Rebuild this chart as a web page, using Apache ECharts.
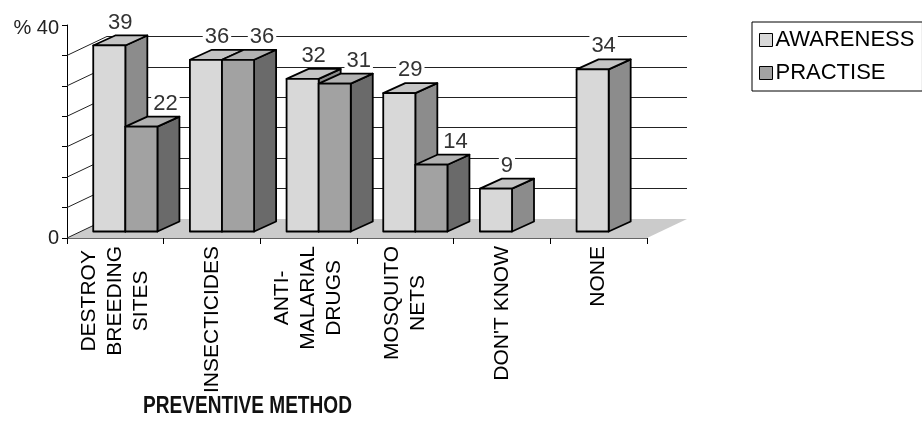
<!DOCTYPE html>
<html>
<head>
<meta charset="utf-8">
<script src="https://cdn.jsdelivr.net/npm/echarts@6/dist/echarts.min.js"></script>
<style>
  html, body { margin: 0; padding: 0; background: #fff; }
  #chart { width: 922px; height: 431px; }
</style>
</head>
<body>
<div id="chart"></div>
<script>
// Awareness vs practise of malaria preventive methods (% of respondents)
const categories = [
  'DESTROY\nBREEDING\nSITES',
  'INSECTICIDES',
  'ANTI-\nMALARIAL\nDRUGS',
  'MOSQUITO\nNETS',
  "DON'T KNOW",
  'NONE'
];
const awareness = [39, 36, 32, 29, 9, 34];
const practise = [22, 36, 31, 14, null, null];
const seriesNames = ['AWARENESS', 'PRACTISE'];
const axisTitle = 'PREVENTIVE METHOD';
const yMin = 0;
const yMax = 40;
const ySteps = 7;

// ---- look of the 3-D box ----
const FONT = "'Liberation Sans', Arial, Helvetica, sans-serif";
const WALL_DX = 40, WALL_DY = -19;   // depth of the floor / back wall offset
const BAR_DX = 22, BAR_DY = -10;     // depth of each block
const BAR_FRACTION = 0.332;          // one block's width relative to its category band
const yStep = (yMax - yMin) / ySteps;

const palette = [
  { front: '#d8d8d8', top: '#c4c4c4', side: '#8c8c8c' },
  { front: '#a2a2a2', top: '#b2b2b2', side: '#6a6a6a' }
];
const LABEL_DX = [11, 24];

const frontRect = { left: 67, top: 25, width: 580, height: 213 };
const wallRect = { left: frontRect.left + WALL_DX, top: frontRect.top + WALL_DY, width: 580, height: 213 };
const barRect = { left: 77, top: 40.7, width: 580, height: 190.8 };

function near(a, b) { return Math.abs(a - b) < 1e-6; }

// Floor, left-wall edge and the slanted tick connectors
function renderFloor(params, api) {
  const cs = params.coordSys;
  const x = cs.x, yb = cs.y + cs.height, w = cs.width;
  const children = [{
    type: 'polygon',
    shape: { points: [[x, yb], [x + w, yb], [x + w + WALL_DX, yb + WALL_DY], [x + WALL_DX, yb + WALL_DY]] },
    style: { fill: '#cbcbcb', stroke: null }
  }, {
    type: 'line',
    shape: { x1: x, y1: yb, x2: x + WALL_DX, y2: yb + WALL_DY },
    style: { stroke: '#222', lineWidth: 1 }
  }];
  for (let i = 1; i < ySteps; i++) {
    const p = api.coord([0, yMin + i * yStep]);
    children.push({
      type: 'line',
      shape: { x1: x, y1: p[1], x2: x + WALL_DX, y2: p[1] + WALL_DY },
      style: { stroke: '#222', lineWidth: 1 }
    });
  }
  return { type: 'group', children: children };
}

function blockRenderer(idx) {
  return function (params, api) {
    const cat = api.value(0);
    const val = api.value(1);
    if (val == null || isNaN(val)) return;
    const base = api.coord([cat, 0]);
    const top = api.coord([cat, val]);
    const w = api.size([1, 0])[0] * BAR_FRACTION;
    const x0 = idx === 0 ? base[0] - w : base[0];
    const x1 = x0 + w;
    const yb = base[1], yt = top[1];
    const c = palette[idx];
    const edge = { stroke: '#000', lineWidth: 1.8, lineJoin: 'round' };
    return {
      type: 'group',
      children: [
        { type: 'polygon', shape: { points: [[x1, yb], [x1 + BAR_DX, yb + BAR_DY], [x1 + BAR_DX, yt + BAR_DY], [x1, yt]] },
          style: Object.assign({ fill: c.side }, edge) },
        { type: 'polygon', shape: { points: [[x0, yt], [x1, yt], [x1 + BAR_DX, yt + BAR_DY], [x0 + BAR_DX, yt + BAR_DY]] },
          style: Object.assign({ fill: c.top }, edge) },
        { type: 'rect', shape: { x: x0, y: yt, width: w, height: yb - yt },
          style: Object.assign({ fill: c.front }, edge) },
        { type: 'text', z2: 100,
          style: { text: String(val), x: (x0 + x1) / 2 + LABEL_DX[idx], y: yt - 23,
                   align: 'center', verticalAlign: 'middle', fontSize: 22, fontFamily: FONT,
                   fill: '#333', backgroundColor: '#fff', padding: [0, 2] } }
      ]
    };
  };
}

const chart = echarts.init(document.getElementById('chart'), null, { renderer: 'canvas' });

chart.setOption({
  animation: false,
  backgroundColor: '#fff',
  graphic: [{
    type: 'text',
    x: 143, y: 407,
    scaleX: 0.83,
    style: {
      text: axisTitle, x: 0, y: 0, align: 'left', verticalAlign: 'middle',
      fontSize: 23, fontWeight: 'bold', fontFamily: FONT, fill: '#111'
    }
  }],
  legend: {
    data: seriesNames,
    orient: 'vertical',
    left: 752, top: 22,
    padding: [7, 8, 7, 7],
    itemGap: 11,
    itemWidth: 13, itemHeight: 13,
    icon: 'rect',
    borderColor: '#000', borderWidth: 1,
    itemStyle: { borderColor: '#000', borderWidth: 1 },
    textStyle: { fontSize: 22, fontFamily: FONT, color: '#000', padding: [0, 0, 0, -2] }
  },
  grid: [
    Object.assign({ containLabel: false }, frontRect),
    Object.assign({ containLabel: false }, wallRect),
    Object.assign({ containLabel: false }, barRect)
  ],
  xAxis: [{
    gridIndex: 0, type: 'category', data: categories, boundaryGap: true,
    axisLine: { show: true, lineStyle: { color: '#666', width: 1 } },
    axisTick: { show: true, length: 6, lineStyle: { color: '#000' } },
    axisLabel: {
      interval: 0, rotate: 90, margin: 8, color: '#000',
      fontSize: 21, fontFamily: FONT, lineHeight: 26,
      formatter: function (v) { return v.split('\n').map(function (s) { return '{c|' + s + '}'; }).join('\n'); },
      rich: { c: { align: 'center', fontSize: 21, fontFamily: FONT, lineHeight: 26, color: '#000' } }
    },
    splitLine: { show: false }
  }, {
    gridIndex: 1, type: 'category', data: categories, show: false
  }, {
    gridIndex: 2, type: 'category', data: categories, show: false
  }],
  yAxis: [{
    gridIndex: 0, type: 'value', min: yMin, max: yMax, interval: yStep,
    axisLine: { show: true, lineStyle: { color: '#000', width: 1 } },
    axisTick: { show: true, length: 5, lineStyle: { color: '#000' } },
    axisLabel: {
      margin: 8, fontSize: 20, fontFamily: FONT, color: '#222',
      formatter: function (v) {
        if (near(v, yMin)) return String(yMin);
        if (near(v, yMax)) return '{t|% ' + yMax + '}';
        return '';
      },
      rich: { t: { fontSize: 20, fontFamily: FONT, color: '#222', padding: [6, 0, 0, 0] } }
    },
    splitLine: { show: false }
  }, {
    gridIndex: 1, type: 'value', min: yMin, max: yMax, interval: yStep,
    axisLine: { show: false }, axisTick: { show: false }, axisLabel: { show: false },
    splitLine: { show: true, showMinLine: false, showMaxLine: false, lineStyle: { color: '#222', width: 1.2 } }
  }, {
    gridIndex: 2, type: 'value', min: yMin, max: yMax, show: false,
    splitLine: { show: false }
  }],
  series: [{
    type: 'custom', name: 'floor', xAxisIndex: 0, yAxisIndex: 0, z: 1,
    silent: true, data: [[0, 0]], renderItem: renderFloor
  }, {
    type: 'custom', name: seriesNames[0], xAxisIndex: 2, yAxisIndex: 2, z: 2,
    itemStyle: { color: palette[0].front, borderColor: '#000', borderWidth: 1 },
    data: awareness.map(function (v, i) { return [i, v]; }),
    renderItem: blockRenderer(0)
  }, {
    type: 'custom', name: seriesNames[1], xAxisIndex: 2, yAxisIndex: 2, z: 2,
    itemStyle: { color: palette[1].front, borderColor: '#000', borderWidth: 1 },
    data: practise.map(function (v, i) { return [i, v]; }),
    renderItem: blockRenderer(1)
  }]
});
</script>
</body>
</html>
